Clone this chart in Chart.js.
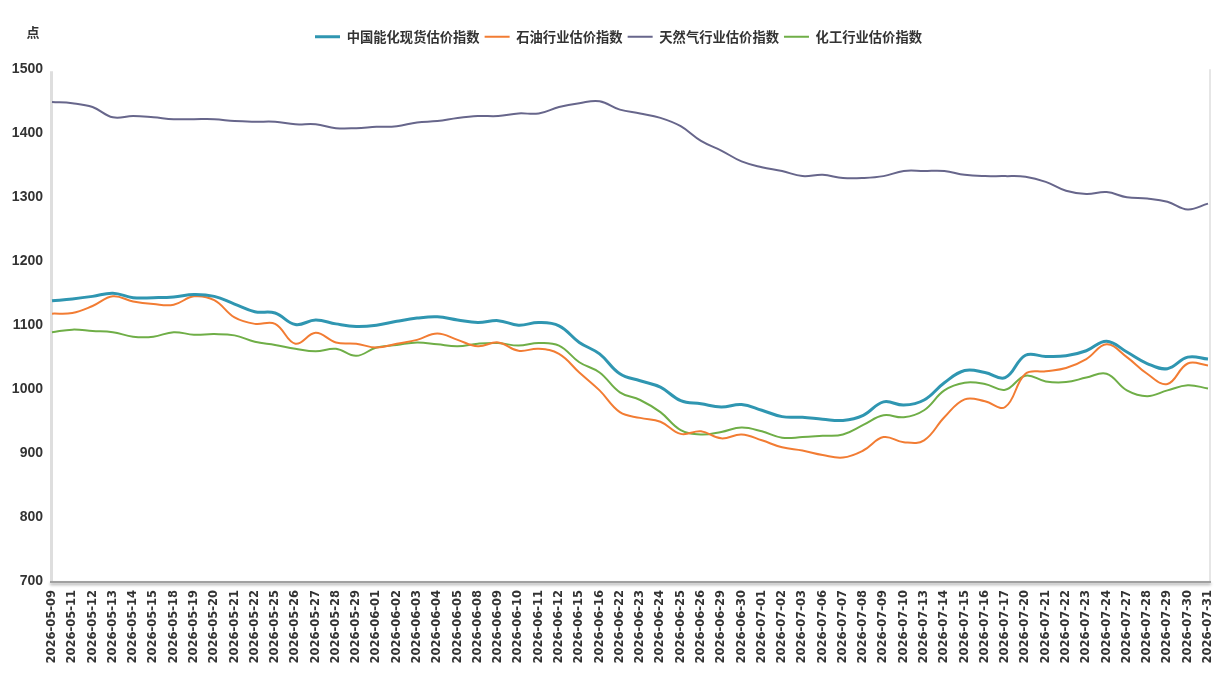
<!DOCTYPE html>
<html>
<head>
<meta charset="utf-8">
<script src="https://cdn.jsdelivr.net/npm/chart.js@4.4.1/dist/chart.umd.min.js"></script>
<style>
  html, body { margin: 0; padding: 0; background: #ffffff; }
  #wrap { width: 1223px; height: 690px; position: relative; }
</style>
</head>
<body>
<div id="wrap"><canvas id="c" width="1223" height="690"></canvas></div>
<script>
const categories = [
  "2026-05-09","2026-05-11","2026-05-12","2026-05-13","2026-05-14","2026-05-15","2026-05-18","2026-05-19",
  "2026-05-20","2026-05-21","2026-05-22","2026-05-25","2026-05-26","2026-05-27","2026-05-28","2026-05-29",
  "2026-06-01","2026-06-02","2026-06-03","2026-06-04","2026-06-05","2026-06-08","2026-06-09","2026-06-10",
  "2026-06-11","2026-06-12","2026-06-15","2026-06-16","2026-06-22","2026-06-23","2026-06-24","2026-06-25",
  "2026-06-26","2026-06-29","2026-06-30","2026-07-01","2026-07-02","2026-07-03","2026-07-06","2026-07-07",
  "2026-07-08","2026-07-09","2026-07-10","2026-07-13","2026-07-14","2026-07-15","2026-07-16","2026-07-17",
  "2026-07-20","2026-07-21","2026-07-22","2026-07-23","2026-07-24","2026-07-27","2026-07-28","2026-07-29",
  "2026-07-30","2026-07-31"
];

const seriesNames = ["中国能化现货估价指数", "石油行业估价指数", "天然气行业估价指数", "化工行业估价指数"];

const energyChemIndex = [
  1138,1141,1145,1150,1143,1143,1144,1148,1145,1133,1121,1119,1101,1108,1102,1098,
  1100,1106,1111,1113,1108,1104,1107,1100,1104,1099,1073,1055,1024,1013,1003,982,
  977,972,976,967,957,956,953,951,959,980,975,983,1010,1029,1026,1018,
  1053,1051,1052,1060,1075,1058,1040,1032,1050,1047
];

const oilIndex = [
  1118,1119,1130,1145,1137,1133,1132,1145,1139,1112,1102,1102,1071,1088,1073,1071,
  1065,1071,1077,1087,1077,1067,1073,1060,1063,1055,1026,998,964,955,949,930,
  934,923,929,920,909,904,897,893,904,925,917,920,956,984,981,972,
  1024,1028,1033,1047,1070,1050,1024,1008,1040,1037
];

const gasIndex = [
  1449,1447,1441,1425,1427,1425,1422,1422,1422,1419,1418,1418,1414,1414,1408,1408,
  1410,1411,1417,1419,1424,1427,1427,1431,1431,1441,1447,1450,1437,1431,1424,1411,
  1388,1373,1356,1347,1341,1333,1335,1330,1330,1333,1341,1341,1341,1335,1333,1333,
  1332,1324,1310,1305,1308,1300,1298,1293,1281,1290
];

const chemIndex = [
  1089,1093,1091,1089,1082,1082,1089,1085,1086,1084,1074,1069,1063,1059,1063,1052,
  1065,1069,1073,1070,1067,1071,1072,1068,1072,1068,1042,1026,995,983,964,936,
  929,933,940,934,924,925,927,929,944,959,956,967,998,1010,1008,999,
  1021,1012,1011,1018,1024,998,989,998,1006,1001
];

const yTicks = [700, 800, 900, 1000, 1100, 1200, 1300, 1400, 1500];
const unitLabel = "点";

const colors = ["#2f96b1", "#f27c33", "#67668b", "#6fae47"];
const widths = [3, 2, 2, 2];
const seriesData = [energyChemIndex, oilIndex, gasIndex, chemIndex];

const framePlugin = {
  id: 'frame',
  afterLayout(chart) {
    const lg = chart.legend;
    if (lg) {
      const shift = 618.5 - (lg.left + lg.right) / 2;
      lg.left += shift; lg.right += shift;
      lg.top -= 16; lg.bottom -= 16;
    }
  },
  beforeDatasetsDraw(chart) {
    const { ctx, chartArea: a } = chart;
    ctx.save();
    ctx.strokeStyle = '#dedede';
    ctx.lineWidth = 3;
    ctx.beginPath(); ctx.moveTo(a.left - 0.5, a.top + 2); ctx.lineTo(a.left - 0.5, a.bottom); ctx.stroke();
    ctx.strokeStyle = '#e6e6e6';
    ctx.lineWidth = 2;
    ctx.beginPath(); ctx.moveTo(a.right + 2, a.top); ctx.lineTo(a.right + 2, a.bottom); ctx.stroke();
    ctx.shadowColor = 'rgba(0,0,0,0.35)';
    ctx.shadowBlur = 3;
    ctx.shadowOffsetY = 2;
    ctx.strokeStyle = '#a0a0a0';
    ctx.lineWidth = 2;
    ctx.beginPath(); ctx.moveTo(a.left - 2, a.bottom + 1); ctx.lineTo(a.right + 3, a.bottom + 1); ctx.stroke();
    ctx.restore();
  },
  afterDraw(chart) {
    const ctx = chart.ctx;
    ctx.save();
    ctx.font = 'bold 13px "Noto Sans CJK SC"';
    ctx.fillStyle = '#333333';
    ctx.textAlign = 'center';
    ctx.textBaseline = 'middle';
    ctx.fillText(unitLabel, 33, 32);
    ctx.restore();
  }
};

new Chart(document.getElementById('c'), {
  type: 'line',
  data: {
    labels: categories,
    datasets: seriesNames.map((name, i) => ({
      label: name,
      data: seriesData[i],
      borderColor: colors[i],
      backgroundColor: colors[i],
      borderWidth: widths[i],
      pointRadius: 0,
      pointHoverRadius: 0,
      tension: 0.4,
      fill: false
    }))
  },
  options: {
    responsive: false,
    animation: false,
    layout: { padding: { left: 0, right: 15, top: 41, bottom: 0 } },
    plugins: {
      tooltip: { enabled: false },
      legend: {
        position: 'top',
        align: 'center',
        labels: {
          usePointStyle: true,
          pointStyle: 'line',
          pointStyleWidth: 25,
          padding: 5,
          color: '#333333',
          font: { family: '"Noto Sans CJK SC"', size: 13.3, weight: 'bold' }
        }
      }
    },
    scales: {
      x: {
        grid: { display: false, drawTicks: false },
        border: { display: false },
        afterFit(s) { s.height = 109; s.paddingRight = 0; s.paddingLeft = 0; },
        ticks: {
          autoSkip: false,
          maxRotation: 90,
          minRotation: 90,
          padding: 9,
          color: '#333333',
          font: { family: '"DejaVu Sans"', size: 11.5, weight: 'bold' }
        }
      },
      y: {
        min: 700,
        max: 1500,
        afterFit(s) { s.width = 52; s.paddingTop = 0; s.paddingBottom = 0; },
        afterBuildTicks(s) { s.ticks = yTicks.map(v => ({ value: v })); },
        grid: { display: false, drawTicks: false },
        border: { display: false },
        ticks: {
          padding: 9,
          color: '#333333',
          callback: (v) => String(v),
          font: { family: '"Liberation Sans"', size: 14, weight: 'bold' }
        }
      }
    }
  },
  plugins: [framePlugin]
});
</script>
</body>
</html>
